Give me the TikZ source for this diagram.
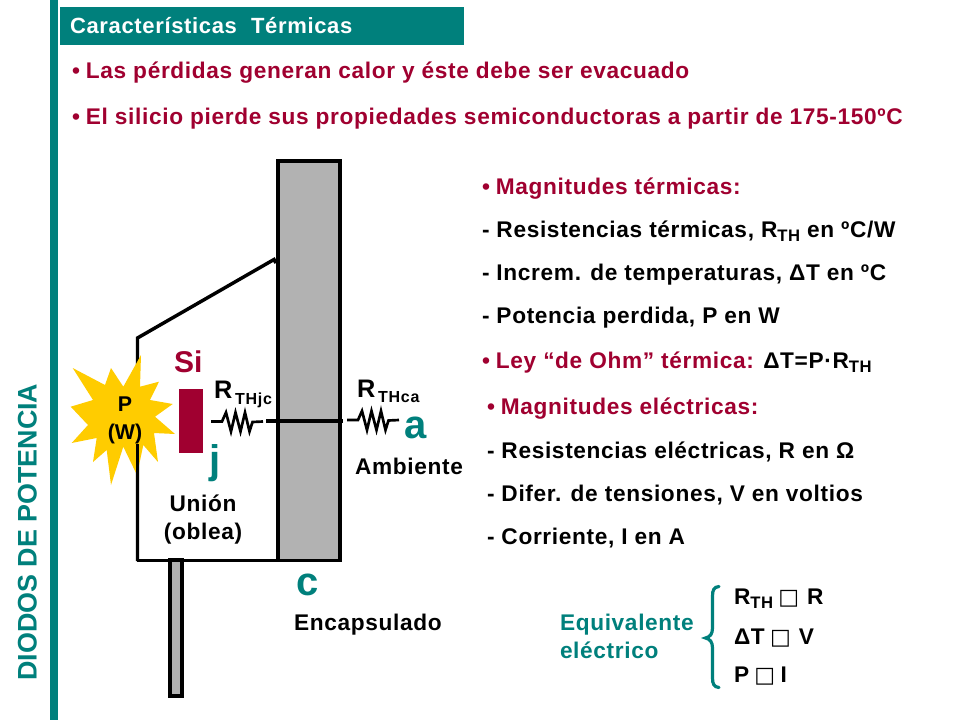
\documentclass[tikz,border=0pt]{standalone}
\usepackage{fontspec}
\setmainfont{Liberation Sans}
\newfontfamily\ls{Liberation Sans}[LetterSpace=2.9]
\newfontfamily\lst{Liberation Sans}[LetterSpace=3]
\newfontfamily\lss{Liberation Sans}[LetterSpace=4.8]
\newfontfamily\djv{DejaVu Sans}
\definecolor{teal1}{HTML}{00807C}
\definecolor{crim}{HTML}{A00030}
\definecolor{gris}{HTML}{B2B2B2}
\definecolor{sun}{HTML}{FFCC00}
\newcommand{\fs}[1]{\fontsize{#1}{#1}\selectfont}
\newcommand{\sbs}[1]{\raisebox{-3pt}{\fs{12.5}#1}}
\newcommand{\bx}{{\djv\mdseries\fs{16.5}\symbol{"25A1}}}
\tikzset{
  x=0.75pt,y=-0.75pt,
  txt/.style={anchor=base west,inner sep=0pt,outer sep=0pt,font=\ls\bfseries\fs{17}},
  red/.style={txt,text=crim},
  blk/.style={txt,text=black},
  tl/.style={txt,text=teal1},
  big/.style={inner sep=0pt,anchor=base west,text=teal1,font=\bfseries\fs{30}},
  ctr/.style={blk,anchor=base},
  wire/.style={draw=black,line width=2.6pt},
  res/.style={draw=black,line width=2pt,line join=miter},
  box/.style={draw=black,line width=2.8pt,fill=gris,line join=miter},
}
\begin{document}
\begin{tikzpicture}
\useasboundingbox (0,0) rectangle (960,720);
\fill[white] (0,0) rectangle (960,720);
% bars
\fill[teal1] (50,0) rectangle (58,720);
\fill[teal1] (60,7) rectangle (464,45);
\node[txt,text=white,font=\lst\bfseries\fs{16.5}] (titulo) at (70,34) {Características\, \,Térmicas};
\node[red] (l1) at (72,79) {\textbullet\hspace{4.5pt}Las pérdidas generan calor y éste debe ser evacuado};
\node[red] (l2) at (72,125) {\textbullet\hspace{4.5pt}El silicio pierde sus propiedades semiconductoras a partir de 175-150ºC};
% package
\draw[wire,line join=miter] (137.5,561) -- (137.5,338) -- (274,259.5) -- (276,263);
\draw[box] (278,161) rectangle (340,560.5);
\draw[wire] (136.5,560.5) -- (278,560.5);
\draw[box] (170,560) rectangle (182,696);
% star
\fill[sun] (141,355) -- (140,386.7) -- (159,381.7) -- (150,400) -- (172.7,404) -- (155,416.7) -- (175,434) -- (154,433) -- (158,462) -- (143.3,445) -- (137,475) -- (123.3,446.7) -- (111,485) -- (106.7,450) -- (93,462) -- (96.7,438) -- (71.7,443) -- (88,425) -- (70.7,406.7) -- (93,400) -- (72.7,368) -- (105,385) -- (111,368) -- (123.3,386.7) -- cycle;
\draw[wire] (137.5,444) -- (137.5,561);
\node[blk,anchor=base,font=\bfseries\fs{16}] (p) at (125,411) {P};
\node[blk,anchor=base,font=\bfseries\fs{16}] (w) at (125,439) {(W)};
% die
\fill[crim] (179,389) rectangle (203,453);
\node[red,font=\bfseries\fs{22.5}] (si) at (174,372) {Si};
% resistors
\coordinate (r1a) at (211,421.5);
\coordinate (r1b) at (263,421.5);
\coordinate (c1) at (266,421);
\coordinate (c2) at (343,421);
\coordinate (r2a) at (347,420);
\coordinate (r2b) at (399,420);
\draw[res] (r1a) -- ++(11,0) -- ++(4,-9) -- ++(5,19) -- ++(4.5,-19) -- ++(5,19) -- ++(4.5,-19) -- ++(4.5,19) -- ++(3,-9.5) -- (r1b);
\draw[res] (r2a) -- ++(11,0) -- ++(4,-9) -- ++(5,19) -- ++(4.5,-19) -- ++(5,19) -- ++(4.5,-19) -- ++(4.5,19) -- ++(3,-9.5) -- (r2b);
\draw[wire] (c1) -- (c2);
\node[blk,font=\bfseries\fs{19}] (rjc) at (214,398.5) {R};
\node[blk,font=\lss\bfseries\fs{12}] (rjcs) at (235,404) {THjc};
\node[blk,font=\bfseries\fs{19}] (rca) at (357,397) {R};
\node[blk,font=\lss\bfseries\fs{12}] (rcas) at (378,402) {THca};
\node[big] (a) at (404,438) {a};
\node[big] (j) at (209.5,473) {j};
\node[big] (c) at (296,595) {c};
\node[blk] (amb) at (355,474) {Ambiente};
\node[ctr] (un) at (203,511) {Unión};
\node[ctr] (ob) at (203,539) {(oblea)};
\node[blk] (enc) at (294,630) {Encapsulado};
% side title
\node[rotate=90,anchor=base west,inner sep=0pt,text=teal1,font=\bfseries\fs{20.15}] (lado) at (36.5,681) {DIODOS DE POTENCIA};
% right column
\node[red] (m1) at (482,195) {\textbullet\hspace{4.5pt}Magnitudes térmicas:};
\node[blk] (m2) at (482,238) {- Resistencias térmicas, R\sbs{TH} en ºC/W};
\node[blk] (m3) at (482,281) {- Increm. de temperaturas, ΔT en ºC};
\node[blk] (m4) at (482,324) {- Potencia perdida, P en W};
\node[blk] (m5) at (482,368) {\textcolor{crim}{\textbullet\hspace{4.5pt}Ley “de Ohm” térmica:} ΔT=P·R\sbs{TH}};
\node[red] (e1) at (487,414) {\textbullet\hspace{4.5pt}Magnitudes eléctricas:};
\node[blk] (e2) at (487,458) {- Resistencias eléctricas, R en Ω};
\node[blk] (e3) at (487,501) {- Difer. de tensiones, V en voltios};
\node[blk] (e4) at (487,544) {- Corriente, I en A};
% equivalent
\node[tl] (q1) at (560,630) {Equivalente};
\node[tl] (q2) at (560,658) {eléctrico};
\draw[draw=teal1,line width=2.4pt,line cap=round] (719,586.5) .. controls (714,587) and (712.5,590) .. (712.5,596) -- (712.5,628) .. controls (712.5,634) and (710,637) .. (705.5,638) .. controls (710,639) and (712.5,642) .. (712.5,648) -- (712.5,678) .. controls (712.5,684) and (714,687) .. (719,687.5);
\node[blk] (t1) at (734,604) {R\sbs{TH}\hspace{4pt}\bx\hspace{6pt}R};
\node[blk] (t2) at (734,644) {ΔT\hspace{4pt}\bx\hspace{6pt}V};
\node[blk] (t3) at (734,682) {P\hspace{4pt}\bx\hspace{4pt}I};
\end{tikzpicture}
\end{document}
